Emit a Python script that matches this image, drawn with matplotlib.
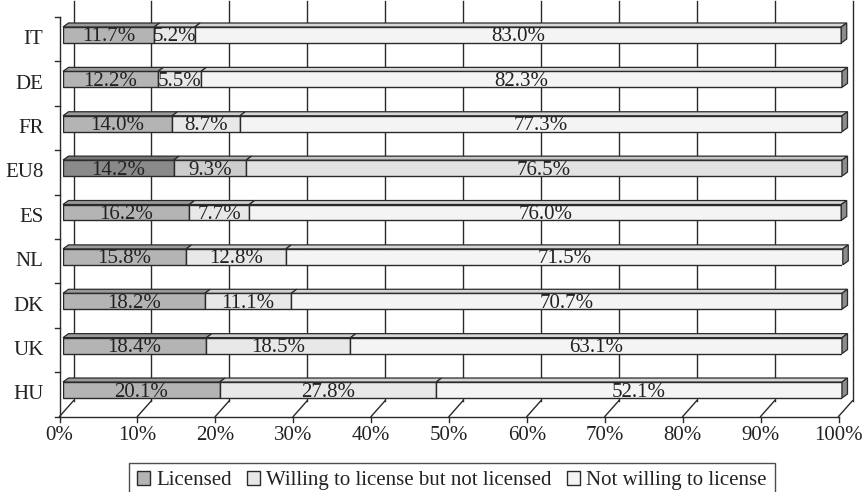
import matplotlib
matplotlib.use("Agg")
import matplotlib.pyplot as plt
from matplotlib.patches import Polygon, Patch
import numpy as np

countries = ['IT', 'DE', 'FR', 'EU8', 'ES', 'NL', 'DK', 'UK', 'HU']
licensed = [11.7, 12.2, 14.0, 14.2, 16.2, 15.8, 18.2, 18.4, 20.1]
willing = [5.2, 5.5, 8.7, 9.3, 7.7, 12.8, 11.1, 18.5, 27.8]
not_willing = [83.0, 82.3, 77.3, 76.5, 76.0, 71.5, 70.7, 63.1, 52.1]
series_names = ['Licensed', 'Willing to license but not licensed', 'Not willing to license']
xticks = [0, 10, 20, 30, 40, 50, 60, 70, 80, 90, 100]
xticklabels = ['%d%%' % v for v in xticks]

plt.rcParams['font.family'] = ['Liberation Serif', 'DejaVu Serif']
FS = 15

W, H = 866, 492
fig = plt.figure(figsize=(W / 100, H / 100), dpi=100)
fig.patch.set_facecolor('white')

# bar plane geometry (pixels)
left_px, right_px = 63, 842
top_px, bot_px = 12.8, 412.2
ax = fig.add_axes([left_px / W, 1 - bot_px / H, (right_px - left_px) / W, (bot_px - top_px) / H])
ax.set_xlim(0, 100)
n = len(countries)
ax.set_ylim(n - 0.5, -0.5)
ax.axis('off')

PX = 100 / (right_px - left_px)          # data units per pixel in x
PY = n / (bot_px - top_px)               # data units per pixel in y (down positive)

def off(x, y, dx, dy):
    return (x + dx * PX, y + dy * PY)

FRONT = (-3.5, 4.3)
BACK = (10.5, -11.5)
DEPTH = (5.5, -4.0)
line_c = '#2a2a2a'
txt_c = '#222222'

# back wall gridlines, floor diagonals, floor ticks and labels
for v, lab in zip(xticks, xticklabels):
    p1 = off(v, -0.5, *BACK)
    p2 = off(v, n - 0.5, *BACK)
    ax.plot([p1[0], p2[0]], [p1[1], p2[1]], color=line_c, lw=1.0, zorder=1, clip_on=False)
    f = off(v, n - 0.5, *FRONT)
    ax.plot([f[0], p2[0]], [f[1], p2[1]], color=line_c, lw=1.0, zorder=1, clip_on=False)
    t2 = off(v, n - 0.5, FRONT[0], FRONT[1] + 5)
    ax.plot([f[0], t2[0]], [f[1], t2[1]], color=line_c, lw=1.0, zorder=1, clip_on=False)
    ax.text(f[0], f[1] + 9 * PY, lab, ha='center', va='top', fontsize=FS, color=txt_c)

# front floor line
a = off(0, n - 0.5, *FRONT)
b = off(100, n - 0.5, *FRONT)
ax.plot([a[0], b[0]], [a[1], b[1]], color=line_c, lw=1.0, zorder=1, clip_on=False)
# left axis line
a = off(0, -0.5, *FRONT)
ax.plot([a[0], a[0]], [a[1], b[1]], color=line_c, lw=1.0, zorder=1, clip_on=False)
for k in range(n + 1):
    y = k - 0.5
    p = off(0, y, *FRONT)
    q = off(0, y, FRONT[0] - 5, FRONT[1])
    ax.plot([q[0], p[0]], [p[1], p[1]], color=line_c, lw=1.0, zorder=1, clip_on=False)
for i, c in enumerate(countries):
    p = off(0, i, FRONT[0] - 16, FRONT[1] + 0.5)
    ax.text(p[0], p[1], c, ha='right', va='center', fontsize=FS, color=txt_c)

# colours
front_cols = ['#b4b4b4', '#e8e8e8', '#f4f4f4']
front_cols_eu = ['#8a8a8a', '#cdcdcd', '#e2e2e2']
top_cols = ['#9a9a9a', '#cfcfcf', '#d6d6d6']
top_cols_eu = ['#767676', '#b0b0b0', '#c4c4c4']
side_col = '#8c8c8c'
bh = 0.36
data = [licensed, willing, not_willing]

for i in range(n):
    eu = countries[i] == 'EU8'
    lefts = 0.0
    for s in range(3):
        v = data[s][i]
        fc = (front_cols_eu if eu else front_cols)[s]
        tc = (top_cols_eu if eu else top_cols)[s]
        ax.barh(i, v, left=lefts, height=bh, color=fc, edgecolor=line_c, lw=1.0, zorder=3)
        ytop = i - bh / 2
        poly = [(lefts, ytop), (lefts + v, ytop),
                off(lefts + v, ytop, *DEPTH), off(lefts, ytop, *DEPTH)]
        ax.add_patch(Polygon(poly, closed=True, facecolor=tc, edgecolor=line_c, lw=0.9, zorder=3, clip_on=False))
        ax.text(lefts + v / 2, i + 0.045, '%.1f%%' % v, ha='center', va='center', fontsize=FS,
                color=txt_c, zorder=5)
        lefts += v
    ybot = i + bh / 2
    ytop = i - bh / 2
    side = [(lefts, ytop), (lefts, ybot), off(lefts, ybot, *DEPTH), off(lefts, ytop, *DEPTH)]
    ax.add_patch(Polygon(side, closed=True, facecolor=side_col, edgecolor=line_c, lw=0.9, zorder=3, clip_on=False))

handles = [Patch(facecolor=front_cols[s], edgecolor=line_c, lw=1.0, label=series_names[s]) for s in range(3)]
leg = fig.legend(handles=handles, loc='upper center', bbox_to_anchor=(452 / W, 1 - 463 / H), ncol=3,
                 frameon=True, fancybox=False, edgecolor='#222222', fontsize=FS,
                 handlelength=0.6, handleheight=0.6, handletextpad=0.3, columnspacing=0.75,
                 borderpad=0.4, borderaxespad=0)
leg.get_frame().set_linewidth(1.0)
for t in leg.get_texts():
    t.set_color(txt_c)

fig.savefig('out.png', dpi=100, facecolor='white')
